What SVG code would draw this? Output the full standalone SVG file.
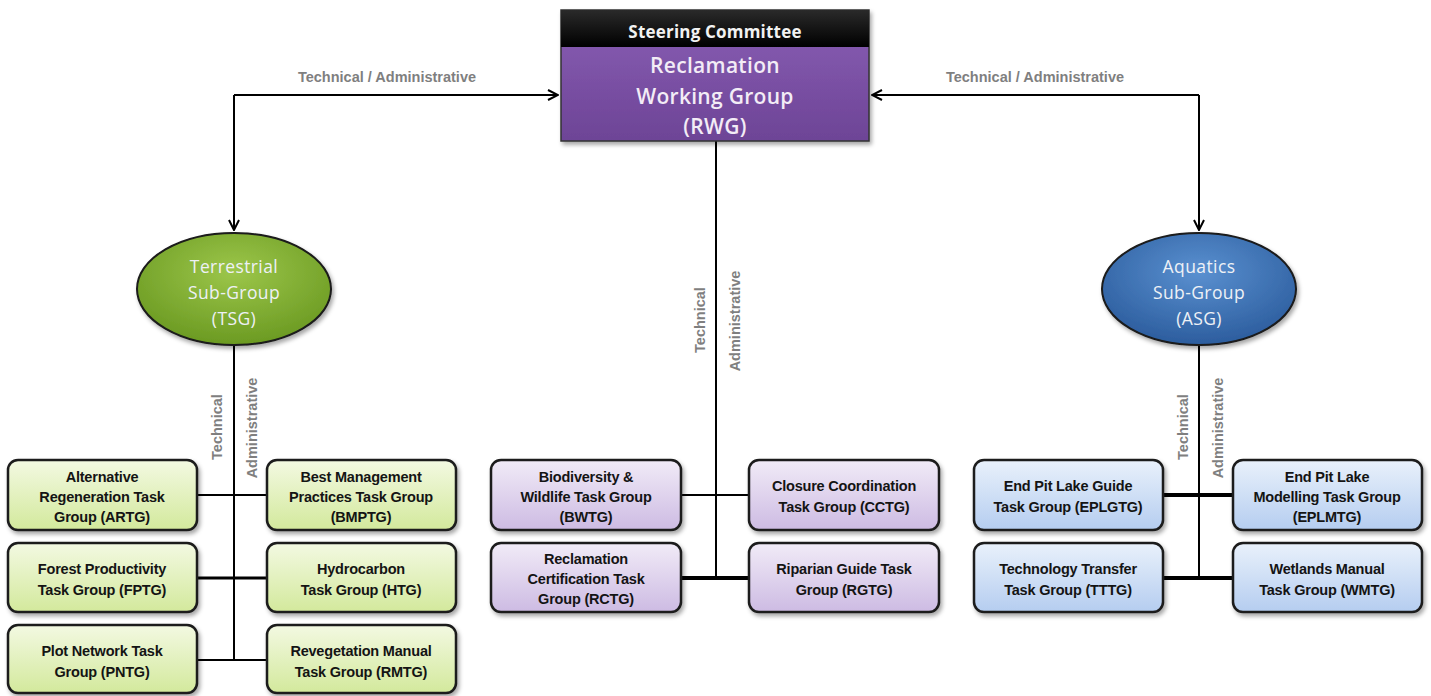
<svg xmlns="http://www.w3.org/2000/svg" width="1431" height="696" viewBox="0 0 1431 696">
<defs>
<linearGradient id="gG" x1="0" y1="0" x2="0" y2="1"><stop offset="0" stop-color="#f3f9e2"/><stop offset="1" stop-color="#d3e99c"/></linearGradient>
<linearGradient id="gP" x1="0" y1="0" x2="0" y2="1"><stop offset="0" stop-color="#f1ebf7"/><stop offset="1" stop-color="#cdbbe3"/></linearGradient>
<linearGradient id="gB" x1="0" y1="0" x2="0" y2="1"><stop offset="0" stop-color="#e9f1fb"/><stop offset="1" stop-color="#b5cdf0"/></linearGradient>
<linearGradient id="gTop" x1="0" y1="0" x2="0" y2="1"><stop offset="0" stop-color="#8a5fb5"/><stop offset="1" stop-color="#6d4496"/></linearGradient>
<linearGradient id="gHead" x1="0" y1="0" x2="0" y2="1"><stop offset="0" stop-color="#2a2a2a"/><stop offset="1" stop-color="#000"/></linearGradient>
<radialGradient id="eG" cx="0.5" cy="0.35" r="0.65"><stop offset="0" stop-color="#9cc64a"/><stop offset="1" stop-color="#6b9a22"/></radialGradient>
<radialGradient id="eB" cx="0.5" cy="0.35" r="0.65"><stop offset="0" stop-color="#5a90d0"/><stop offset="1" stop-color="#2c5d9e"/></radialGradient>
<filter id="sh" x="-10%" y="-10%" width="125%" height="130%"><feDropShadow dx="2" dy="3" stdDeviation="2" flood-color="#000" flood-opacity="0.35"/></filter>
<marker id="ah" viewBox="0 0 12 12" refX="11" refY="6" markerWidth="12" markerHeight="12" markerUnits="userSpaceOnUse" orient="auto"><path d="M1,1 L11,6 L1,11" fill="none" stroke="#000" stroke-width="2"/></marker>
</defs>
<style>
.tb{font-family:"Liberation Sans",Arial,sans-serif;font-weight:bold;font-size:14.5px;fill:#141414;text-anchor:middle;letter-spacing:-0.2px}
.box{stroke:#1a1a1a;stroke-width:2.5;filter:url(#sh)}
.lbl{font-family:"Liberation Sans",Arial,sans-serif;font-weight:bold;font-size:14.5px;fill:#7f7f7f;text-anchor:middle;letter-spacing:0px}
.et{font-family:"Open Sans","Liberation Sans",sans-serif;font-size:17.5px;fill:#eef1f6;text-anchor:middle;letter-spacing:0.4px}
.wt{font-family:"Open Sans","Liberation Sans",sans-serif;font-size:21px;fill:#f3ecf6;text-anchor:middle;font-weight:600;letter-spacing:0.3px}
.ln{stroke:#000;stroke-width:2;fill:none}
.lnb{stroke:#000;stroke-width:4;fill:none}
</style>

<g id="connectors">
<path class="ln" d="M234,95 H558" marker-end="url(#ah)"/>
<path class="ln" d="M234,95 V230" marker-end="url(#ah)"/>
<path class="ln" d="M1199,95 H872" marker-end="url(#ah)"/>
<path class="ln" d="M1199,95 V230" marker-end="url(#ah)"/>
<path class="ln" d="M234,346 V661"/>
<path class="ln" d="M198,495 H267"/>
<path class="ln" style="stroke-width:3" d="M198,578 H267"/>
<path class="ln" d="M198,660 H267"/>
<path class="ln" d="M716,141 V578"/>
<path class="ln" d="M681,495 H749"/>
<path class="lnb" d="M681,578 H749"/>
<path class="ln" d="M1199,346 V578"/>
<path class="lnb" d="M1163,495 H1233"/>
<path class="lnb" d="M1163,578 H1233"/>
<text class="lbl" x="387" y="82">Technical / Administrative</text>
<text class="lbl" x="1035" y="82">Technical / Administrative</text>
<text class="lbl" transform="translate(705,320) rotate(-90)">Technical</text>
<text class="lbl" transform="translate(740,321) rotate(-90)">Administrative</text>
<text class="lbl" transform="translate(222,427) rotate(-90)">Technical</text>
<text class="lbl" transform="translate(257,428) rotate(-90)">Administrative</text>
<text class="lbl" transform="translate(1188,427) rotate(-90)">Technical</text>
<text class="lbl" transform="translate(1223,428) rotate(-90)">Administrative</text>
</g>

<g id="rwg">
<rect x="561" y="10" width="308" height="131" fill="url(#gTop)" stroke="#333" stroke-width="1.5" filter="url(#sh)"/>
<rect x="561" y="10" width="308" height="37" fill="url(#gHead)"/>
<text x="715" y="38" font-family="'Open Sans','Liberation Sans',sans-serif" font-weight="bold" font-size="17" letter-spacing="0.2" fill="#f2f2f2" text-anchor="middle">Steering Committee</text>
<text class="wt" x="715" y="73">Reclamation</text>
<text class="wt" x="715" y="104">Working Group</text>
<text class="wt" x="715" y="134">(RWG)</text>
</g>

<g id="tsg">
<ellipse cx="234" cy="289" rx="97" ry="56" fill="url(#eG)" stroke="#1a1a1a" stroke-width="2" filter="url(#sh)"/>
<text class="et" x="234" y="273">Terrestrial</text>
<text class="et" x="234" y="299">Sub-Group</text>
<text class="et" x="234" y="325">(TSG)</text>
</g>

<g id="asg">
<ellipse cx="1199" cy="289" rx="97" ry="56" fill="url(#eB)" stroke="#1a1a1a" stroke-width="2" filter="url(#sh)"/>
<text class="et" x="1199" y="273">Aquatics</text>
<text class="et" x="1199" y="299">Sub-Group</text>
<text class="et" x="1199" y="325">(ASG)</text>
</g>

<g id="artg"><rect class="box" x="8" y="460" width="189" height="70" rx="10" fill="url(#gG)"/>
<text class="tb" x="102" y="482">Alternative</text><text class="tb" x="102" y="502">Regeneration Task</text><text class="tb" x="102" y="522">Group (ARTG)</text></g>
<g id="bmptg"><rect class="box" x="267" y="460" width="189" height="70" rx="10" fill="url(#gG)"/>
<text class="tb" x="361" y="482">Best  Management</text><text class="tb" x="361" y="502">Practices Task Group</text><text class="tb" x="361" y="522">(BMPTG)</text></g>
<g id="fptg"><rect class="box" x="8" y="543" width="189" height="69" rx="10" fill="url(#gG)"/>
<text class="tb" x="102" y="574">Forest Productivity</text><text class="tb" x="102" y="595">Task Group (FPTG)</text></g>
<g id="htg"><rect class="box" x="267" y="543" width="189" height="69" rx="10" fill="url(#gG)"/>
<text class="tb" x="361" y="574">Hydrocarbon</text><text class="tb" x="361" y="595">Task Group (HTG)</text></g>
<g id="pntg"><rect class="box" x="8" y="625" width="189" height="68" rx="10" fill="url(#gG)"/>
<text class="tb" x="102" y="656">Plot Network Task</text><text class="tb" x="102" y="677">Group (PNTG)</text></g>
<g id="rmtg"><rect class="box" x="267" y="625" width="189" height="68" rx="10" fill="url(#gG)"/>
<text class="tb" x="361" y="656">Revegetation Manual</text><text class="tb" x="361" y="677">Task Group (RMTG)</text></g>

<g id="bwtg"><rect class="box" x="491" y="460" width="190" height="70" rx="10" fill="url(#gP)"/>
<text class="tb" x="586" y="482">Biodiversity &amp;</text><text class="tb" x="586" y="502">Wildlife Task Group</text><text class="tb" x="586" y="522">(BWTG)</text></g>
<g id="cctg"><rect class="box" x="749" y="460" width="190" height="70" rx="10" fill="url(#gP)"/>
<text class="tb" x="844" y="491">Closure Coordination</text><text class="tb" x="844" y="512">Task Group (CCTG)</text></g>
<g id="rctg"><rect class="box" x="491" y="543" width="190" height="69" rx="10" fill="url(#gP)"/>
<text class="tb" x="586" y="564">Reclamation</text><text class="tb" x="586" y="584">Certification Task</text><text class="tb" x="586" y="604">Group (RCTG)</text></g>
<g id="rgtg"><rect class="box" x="749" y="543" width="190" height="69" rx="10" fill="url(#gP)"/>
<text class="tb" x="844" y="574">Riparian Guide Task</text><text class="tb" x="844" y="595">Group (RGTG)</text></g>

<g id="eplgtg"><rect class="box" x="974" y="460" width="189" height="70" rx="10" fill="url(#gB)"/>
<text class="tb" x="1068" y="491">End Pit Lake Guide</text><text class="tb" x="1068" y="512">Task Group (EPLGTG)</text></g>
<g id="eplmtg"><rect class="box" x="1233" y="460" width="189" height="70" rx="10" fill="url(#gB)"/>
<text class="tb" x="1327" y="482">End Pit Lake</text><text class="tb" x="1327" y="502">Modelling Task Group</text><text class="tb" x="1327" y="522">(EPLMTG)</text></g>
<g id="tttg"><rect class="box" x="974" y="543" width="189" height="69" rx="10" fill="url(#gB)"/>
<text class="tb" x="1068" y="574">Technology Transfer</text><text class="tb" x="1068" y="595">Task Group (TTTG)</text></g>
<g id="wmtg"><rect class="box" x="1233" y="543" width="189" height="69" rx="10" fill="url(#gB)"/>
<text class="tb" x="1327" y="574">Wetlands Manual</text><text class="tb" x="1327" y="595">Task Group (WMTG)</text></g>
</svg>
